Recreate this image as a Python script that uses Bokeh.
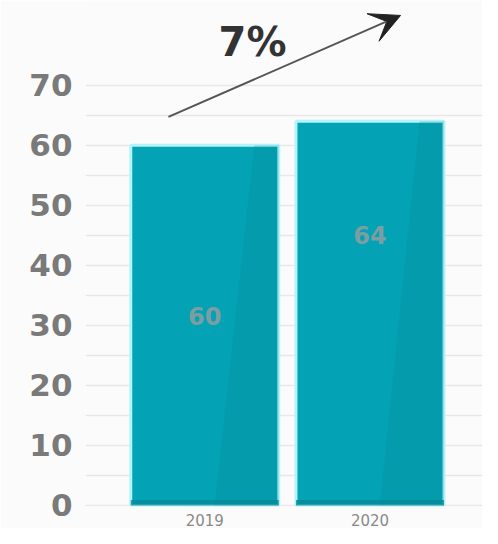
from bokeh.plotting import figure
from bokeh.models import Range1d, FixedTicker, Arrow, VeeHead, ColumnDataSource, Label
from bokeh.embed import file_html
from bokeh.resources import INLINE
from bokeh.core.properties import value

# ---- data ----
categories = ["2019", "2020"]
values = [60, 64]
value_labels = ["60", "64"]
y_ticks = [0, 10, 20, 30, 40, 50, 60, 70]
growth_label = "7%"

x_pos = list(range(len(categories)))
label_frac = [0.525, 0.705]  # style: vertical placement of in-bar labels

p = figure(width=482, height=528, output_backend="svg", toolbar_location=None,
           x_range=Range1d(-0.722, 1.681), y_range=Range1d(-0.17, 84.09),
           min_border_left=85, min_border_right=0, min_border_top=0, min_border_bottom=20,
           background_fill_color="#fbfbfb", border_fill_color="#fbfbfb")
p.outline_line_color = None

src = ColumnDataSource(dict(x=x_pos, top=values, lab=value_labels,
                            ly=[v * f for v, f in zip(values, label_frac)]))

# bars
p.vbar(x="x", top="top", width=0.896, source=src, fill_color="#04a2b5",
       line_color="#b3f3fb", line_width=3)
# darker sheen on right side of each bar
for xi, v in zip(x_pos, values):
    p.patch([xi + 0.06, xi + 0.448, xi + 0.448, xi + 0.30],
            [0, 0, v, v], fill_color="#05808f", fill_alpha=0.2, line_color=None)
# bottom darker band
p.vbar(x="x", top=0.9, bottom=0, width=0.896, source=src, fill_color="#06899a",
       line_color=None, fill_alpha=0.8)

p.text(x="x", y="ly", text="lab", source=src, text_align="center", text_baseline="middle",
       text_font=value("DejaVu Sans"), text_font_style="bold", text_font_size="24px",
       text_color="#7c9ea2")

# growth arrow and label
p.add_layout(Arrow(x_start=-0.22, y_start=64.7, x_end=1.185, y_end=81.6,
                   line_color="#555555", line_width=2,
                   end=VeeHead(size=30, fill_color="#222222", line_color="#222222")))
p.add_layout(Label(x=0.289, y=77.1, text=growth_label, text_align="center",
                   text_baseline="middle", text_font="DejaVu Sans", text_font_style="bold",
                   text_font_size="40px", text_color="#333333"))

# axes
p.yaxis.ticker = FixedTicker(ticks=y_ticks)
p.yaxis.axis_line_color = None
p.yaxis.major_tick_line_color = None
p.yaxis.minor_tick_line_color = None
p.yaxis.major_label_standoff = 7
p.yaxis.major_label_text_font = "DejaVu Sans"
p.yaxis.major_label_text_font_style = "bold"
p.yaxis.major_label_text_font_size = "31px"
p.yaxis.major_label_text_color = "#7a7a7a"

p.xaxis.ticker = FixedTicker(ticks=x_pos)
p.xaxis.major_label_overrides = {i: c for i, c in enumerate(categories)}
p.xaxis.axis_line_color = None
p.xaxis.major_tick_line_color = None
p.xaxis.minor_tick_line_color = None
p.xaxis.major_label_standoff = 1
p.xaxis.major_label_text_font = "DejaVu Sans"
p.xaxis.major_label_text_font_size = "15px"
p.xaxis.major_label_text_color = "#8a8a8a"

p.xgrid.grid_line_color = None
p.ygrid.ticker = FixedTicker(ticks=list(range(0, 75, 5)))
p.ygrid.grid_line_color = "#e8e8e8"
p.ygrid.grid_line_width = 1.5

open("out.html", "w").write(file_html(p, INLINE))
